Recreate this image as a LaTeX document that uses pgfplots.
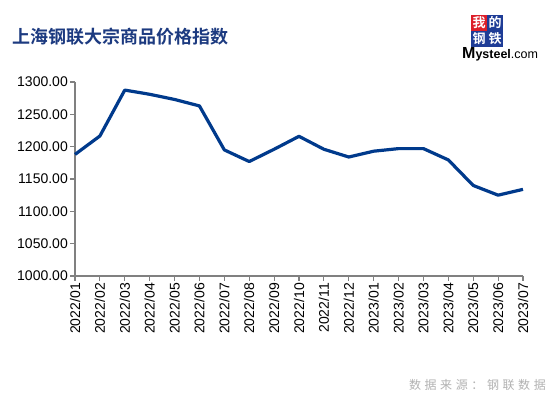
\documentclass[border=0pt]{standalone}
\usepackage{pgfplots}
\pgfplotsset{compat=1.18}
\usepackage{fontspec}
\setmainfont{Liberation Sans}
\newfontfamily\cjk{Noto Sans CJK SC}
\newfontfamily\cjkfoot[LetterSpace=30]{Noto Sans CJK SC}
\newfontfamily\cjkb{Noto Sans CJK SC Bold}
\definecolor{linec}{RGB}{0,58,140}
\definecolor{titlec}{RGB}{28,58,128}
\definecolor{axc}{RGB}{128,128,128}
\definecolor{logored}{RGB}{220,30,40}
\definecolor{logoblue}{RGB}{30,60,150}
\begin{document}
\begin{tikzpicture}
\useasboundingbox[fill=white] (0bp,0bp) rectangle (548bp,397bp);
\node[anchor=west,inner sep=0,text=titlec,font=\cjkb\fontsize{18bp}{18bp}\selectfont] at (12bp,360bp) {上海钢联大宗商品价格指数};
\node[anchor=east,inner sep=0,text=gray!60,font=\cjkfoot\fontsize{12bp}{12bp}\selectfont] at (546bp,12bp) {数据来源：钢联数据};
% logo
\fill[logored] (471bp,366bp) rectangle (487bp,382bp);
\fill[logoblue] (487bp,366bp) rectangle (503bp,382bp);
\fill[logoblue] (471bp,350bp) rectangle (487bp,366bp);
\fill[logoblue] (487bp,350bp) rectangle (503bp,366bp);
\node[text=white,font=\cjkb\fontsize{13bp}{13bp}\selectfont,inner sep=0] at (479bp,374bp) {我};
\node[text=white,font=\cjkb\fontsize{13bp}{13bp}\selectfont,inner sep=0] at (495bp,374bp) {的};
\node[text=white,font=\cjkb\fontsize{13bp}{13bp}\selectfont,inner sep=0] at (479bp,358bp) {钢};
\node[text=white,font=\cjkb\fontsize{13bp}{13bp}\selectfont,inner sep=0] at (495bp,358bp) {铁};
\node[anchor=west,inner sep=0] at (462bp,343bp) {\bfseries\fontsize{16bp}{16bp}\selectfont M\fontsize{12.5bp}{12.5bp}\selectfont ysteel\mdseries.com};
\begin{axis}[
  at={(75bp,121bp)}, anchor=south west,
  scale only axis, width=448bp, height=194bp,
  xmin=0, xmax=18, ymin=1000, ymax=1300,
  axis x line*=bottom, axis y line*=left,
  axis line style={axc, line width=1.3bp, -},
  tick style={axc, line width=1.1bp},
  tick align=outside, major tick length=5bp,
  xtick={0,...,18},
  xticklabels={2022/01,2022/02,2022/03,2022/04,2022/05,2022/06,2022/07,2022/08,2022/09,2022/10,2022/11,2022/12,2023/01,2023/02,2023/03,2023/04,2023/05,2023/06,2023/07},
  x tick label style={rotate=90, anchor=east, font=\fontsize{14bp}{14bp}\selectfont, inner sep=2bp},
  ytick={1000,1050,...,1300},
  y tick label style={font=\fontsize{14bp}{14bp}\selectfont, inner sep=2bp},
  yticklabel style={/pgf/number format/.cd, fixed, fixed zerofill, precision=2, 1000 sep={}, assume math mode=true},
  clip=false,
]
\addplot[linec, line width=3.2bp, line join=round] coordinates {
(0,1188) (1,1216.5) (2,1287.5) (3,1281) (4,1273) (5,1263) (6,1195) (7,1177) (8,1196) (9,1216) (10,1196) (11,1184) (12,1193) (13,1197) (14,1197) (15,1179.5) (16,1140) (17,1125) (18,1134)
};
\end{axis}
\end{tikzpicture}
\end{document}
